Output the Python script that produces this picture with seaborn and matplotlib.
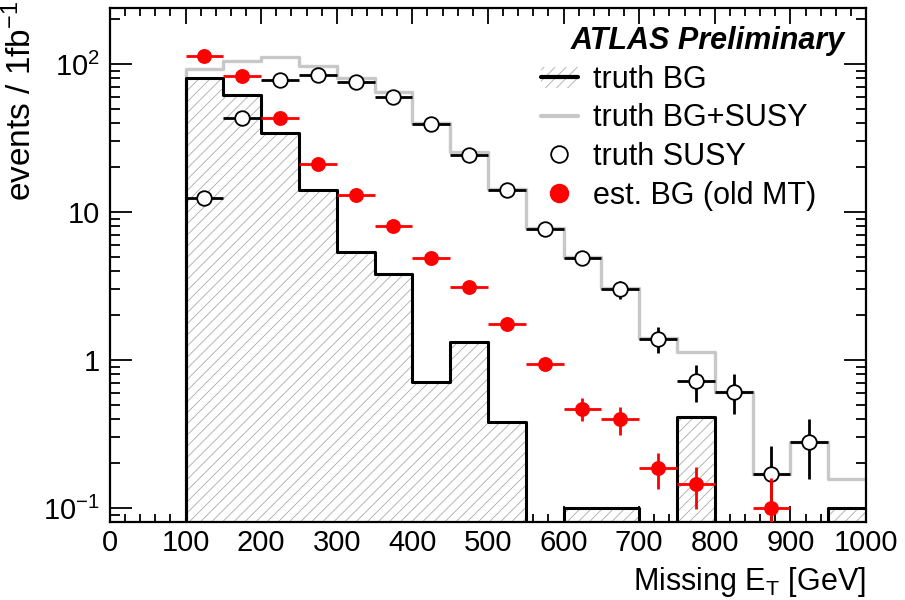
import matplotlib
matplotlib.use("Agg")
import matplotlib.pyplot as plt
import numpy as np
import pandas as pd
import seaborn as sns
from matplotlib.lines import Line2D
from matplotlib.patches import Patch
from matplotlib.ticker import FixedLocator, FixedFormatter, MultipleLocator, LogLocator, NullFormatter

# BINNING (50 GeV BINS FROM 0 TO 1000)
bin_edges = np.arange(0, 1050, 50)
bin_centers = bin_edges[:-1] + 25

# HISTOGRAMS (ONE VALUE PER BIN)
truth_bg = [0, 0, 80, 62, 34, 14, 5.4, 3.8, 0.71, 1.33, 0.38, 0, 0.1, 0.1, 0, 0.41, 0, 0, 0, 0.1]
truth_bg_susy = [0, 0, 92.5, 105, 111, 97, 81, 65, 40, 25.5, 14.2, 7.8, 4.95, 3.05, 1.40, 1.14, 0.61, 0.17, 0.28, 0.156]

# TRUTH SUSY POINTS
susy_x = [125, 175, 225, 275, 325, 375, 425, 475, 525, 575, 625, 675, 725, 775, 825, 875, 925]
susy_y = [12.4, 43, 78, 84, 75.6, 60, 39.5, 24.3, 14.1, 7.7, 4.9, 3.0, 1.39, 0.72, 0.61, 0.169, 0.278]
susy_err_dn = [1.0, 2.0, 3.0, 3.0, 3.0, 2.5, 2.0, 1.5, 1.0, 0.7, 0.5, 0.4, 0.27, 0.20, 0.18, 0.09, 0.12]
susy_err_up = [1.0, 2.0, 3.0, 3.0, 3.0, 2.5, 2.0, 1.5, 1.0, 0.7, 0.5, 0.4, 0.28, 0.20, 0.19, 0.095, 0.12]

# ESTIMATED BG POINTS
est_x = [125, 175, 225, 275, 325, 375, 425, 475, 525, 575, 625, 675, 725, 775, 875]
est_y = [114, 83, 43.4, 21.2, 13.0, 8.1, 4.9, 3.13, 1.76, 0.94, 0.47, 0.40, 0.185, 0.145, 0.10]
est_err_dn = [3.0, 2.5, 1.8, 1.2, 0.9, 0.7, 0.5, 0.3, 0.09, 0.07, 0.08, 0.09, 0.05, 0.047, 0.05]
est_err_up = [3.0, 2.5, 1.8, 1.2, 0.9, 0.7, 0.5, 0.3, 0.09, 0.07, 0.08, 0.08, 0.05, 0.043, 0.06]

hist_df = pd.DataFrame({'met': bin_centers, 'bg': truth_bg, 'bg_susy': truth_bg_susy})
edges = list(bin_edges)

# STYLE
sns.set_style("ticks")
plt.rcParams['font.family'] = ['Liberation Sans', 'DejaVu Sans']
plt.rcParams['mathtext.fontset'] = 'custom'
plt.rcParams['mathtext.rm'] = 'Liberation Sans'
plt.rcParams['mathtext.it'] = 'Liberation Sans:italic'
plt.rcParams['mathtext.default'] = 'regular'
plt.rcParams['hatch.linewidth'] = 0.6
for key in ['text.color', 'axes.labelcolor', 'xtick.color', 'ytick.color']:
    plt.rcParams[key] = 'black'

fig = plt.figure(figsize=(9.05, 6.0), dpi=100)
ax = fig.add_axes([0.1215, 0.13, 0.8354, 0.8567])
ax.set_yscale('log')

# HATCHED FILL OF THE TRUTH BG
sns.histplot(data=hist_df, x='met', weights='bg', bins=edges, element='step', fill=True,
             alpha=1, facecolor='white', edgecolor='#ababab', linewidth=0, hatch='///', ax=ax)
# OUTLINES
sns.histplot(data=hist_df, x='met', weights='bg_susy', bins=edges, element='step', fill=False,
             color='#c8c8c8', linewidth=2.4, ax=ax)
sns.histplot(data=hist_df, x='met', weights='bg', bins=edges, element='step', fill=False,
             color='black', linewidth=2.2, ax=ax)

# TRUTH SUSY (OPEN CIRCLES)
ax.errorbar(susy_x, susy_y, xerr=25, yerr=[susy_err_dn, susy_err_up], fmt='none',
            ecolor='black', elinewidth=2, capsize=0, zorder=4)
sns.scatterplot(x=susy_x, y=susy_y, marker='o', s=110, facecolor='white', edgecolor='black',
                linewidth=1.3, zorder=5, ax=ax)

# EST. BG (RED FILLED CIRCLES)
ax.errorbar(est_x, est_y, xerr=25, yerr=[est_err_dn, est_err_up], fmt='none',
            ecolor='red', elinewidth=2, capsize=0, zorder=6)
sns.scatterplot(x=est_x, y=est_y, marker='o', s=115, color='red', edgecolor='red',
                linewidth=0, zorder=7, ax=ax)

# AXES
ax.set_xlim(0, 1000)
ax.set_ylim(0.0804, 239)
ax.xaxis.set_major_locator(MultipleLocator(100))
ax.xaxis.set_minor_locator(MultipleLocator(20))
ax.yaxis.set_major_locator(FixedLocator([0.1, 1, 10, 100]))
ax.yaxis.set_major_formatter(FixedFormatter(['$10^{-1}$', '1', '10', '$10^{2}$']))
ax.yaxis.set_minor_locator(LogLocator(base=10, subs=np.arange(2, 10)))
ax.yaxis.set_minor_formatter(NullFormatter())
ax.tick_params(axis='x', which='major', direction='in', length=11.5, width=1.3, top=True, labelsize=21, pad=5)
ax.tick_params(axis='x', which='minor', direction='in', length=5.5, width=1.3, top=True)
ax.tick_params(axis='y', which='major', direction='in', length=15.5, width=1.3, right=True, labelsize=21, pad=7)
ax.tick_params(axis='y', which='minor', direction='in', length=7.5, width=1.3, right=True)
for spine in ax.spines.values():
    spine.set_visible(True)
    spine.set_linewidth(1.6)
    spine.set_color('black')

ax.set_xlabel('Missing E$_T$ [GeV]', fontsize=22, loc='right', labelpad=6)
ax.set_ylabel('events / 1fb$^{-1}$', fontsize=24, loc='top', labelpad=4)
ax.yaxis.label.set_y(1.015)

# LABEL AND LEGEND
ax.text(0.972, 0.936, 'ATLAS Preliminary', transform=ax.transAxes, ha='right', va='center',
        fontsize=22, fontweight='bold', fontstyle='italic')
handles = [
    (Patch(facecolor='white', edgecolor='#ababab', hatch='///', linewidth=0),
     Line2D([], [], color='black', linewidth=3)),
    Line2D([], [], color='#c8c8c8', linewidth=3),
    Line2D([], [], marker='o', linestyle='none', markersize=12, markerfacecolor='white',
           markeredgecolor='black', markeredgewidth=1.3),
    Line2D([], [], marker='o', linestyle='none', markersize=13, markerfacecolor='red',
           markeredgecolor='red'),
]
labels = ['truth BG', 'truth BG+SUSY', 'truth SUSY', 'est. BG (old MT)']
ax.legend(handles, labels, loc='upper left', bbox_to_anchor=(0.554, 0.913), frameon=False,
          fontsize=22, handlelength=1.2, handletextpad=0.5, labelspacing=0.28, borderaxespad=0)

fig.savefig('out.png', dpi=100)
